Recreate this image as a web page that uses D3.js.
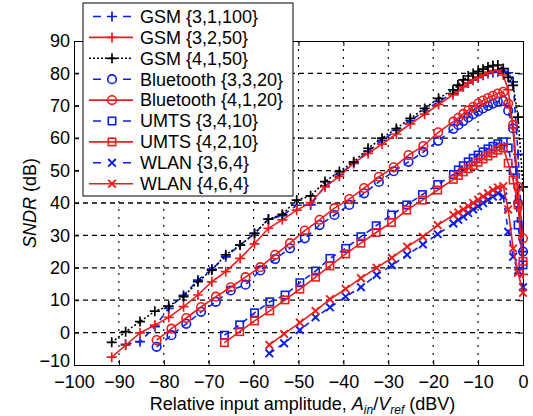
<!DOCTYPE html>
<html>
<head>
<meta charset="utf-8">
<script src="https://cdn.jsdelivr.net/npm/d3@7"></script>
<style>
body { margin: 0; background: #fff; }
text { font-family: "Liberation Sans", Arial, sans-serif; fill: #000; }
</style>
</head>
<body>
<div id="container"></div>
<script>
// amplitude sweeps (dBV) - coarse steps then fine steps near full scale
var xGsm = [-91.6,-88.5,-85.3,-82.0,-78.9,-75.6,-72.4,-69.3,-66.2,-63.0,-59.8,-56.7,-53.6,-50.4,-47.3,-44.1,-40.9,-37.7,-34.5,-31.4,-28.2,-25.1,-21.9,-18.8,
            -15.6,-14.5,-13.3,-12.2,-11.1,-10.0,-8.9,-7.8,-6.7,-5.6,-4.4,-3.3,-2.2,-1.1,0];
var xGsmBlue = [-88.5,-85.3,-82.0,-78.9,-75.6,-72.4,-69.3,-66.2,-63.0,-59.8,-56.7,-53.6,-50.4,-47.3,-44.1,-40.9,-37.7,-34.5,-31.4,-28.2,-25.1,-21.9,-18.8,
            -15.6,-14.5,-13.3,-12.2,-11.1,-10.0,-8.9,-7.8,-6.7,-5.6,-4.4,-3.3,-2.2,-1.1,0];
var xBt = [-81.6,-78.3,-75.0,-71.7,-68.4,-65.1,-61.8,-58.5,-55.2,-51.9,-48.6,-45.3,-42.0,-38.7,-35.4,-32.1,-28.8,-25.5,-22.2,-18.9,
           -15.5,-14.4,-13.3,-12.2,-11.1,-10.0,-8.9,-7.8,-6.7,-5.6,-4.4,-3.3,-2.2,-1.1,0];
var xUmts = [-66.5,-63.1,-59.8,-56.4,-53.0,-49.7,-46.2,-43.0,-39.5,-36.1,-32.7,-29.3,-25.9,-22.4,-19.0,
             -15.5,-14.4,-13.3,-12.2,-11.1,-10.0,-8.9,-7.8,-6.7,-5.6,-4.4,-3.3,-2.2,-1.1,0];
var xWlan = [-56.5,-53.2,-49.7,-46.2,-43.0,-39.5,-36.1,-32.6,-29.2,-25.8,-22.3,-19.0,
             -15.5,-14.4,-13.3,-12.2,-11.1,-10.0,-8.9,-7.8,-6.7,-5.6,-4.4,-3.3,-2.2,-1.1,0];

// SNDR (dB) for each case
var gsm_3_1_100 = [-3.6,-2.8,1.8,7.5,11.5,16.2,19.6,23.4,27.0,30.6,35.0,36.1,39.3,39.4,45.2,48.8,52.2,56.0,59.3,62.4,65.4,68.4,71.4,
                   73.8,74.9,76.0,77.0,77.9,78.7,79.4,80.0,80.3,80.5,80.6,80.2,77.4,55.0,25.0];
var gsm_3_2_50 = [-7.6,-3.9,-0.1,2.3,4.7,8.0,11.6,15.7,18.8,22.9,27.4,32.2,34.8,37.8,40.1,45.0,48.2,52.4,55.3,58.2,61.3,64.4,67.4,70.4,
                  73.4,74.7,75.9,77.0,78.0,78.9,79.7,80.4,80.9,81.1,79.5,74.9,63.3,40.0,18.0];
var gsm_4_1_50 = [-3.0,0.3,3.4,6.6,8.2,11.1,15.7,19.3,24.0,27.0,30.6,35.0,36.5,40.9,42.2,46.6,49.7,52.7,56.9,60.0,63.0,66.1,69.2,72.3,
                  74.9,76.4,78.0,79.2,80.0,80.6,81.3,82.0,82.4,82.6,81.5,78.8,76.3,66.5,45.0];
var bt_3_3_20 = [-4.4,-0.8,2.7,6.4,9.5,13.0,14.8,19.2,22.7,26.0,29.1,33.2,36.3,39.4,43.0,46.5,49.8,52.7,55.7,59.2,
                 62.9,64.1,65.3,66.4,67.4,68.3,69.2,70.0,70.7,71.3,71.5,68.5,63.0,40.0,25.0];
var bt_4_1_20 = [-2.3,1.2,4.5,7.9,11.1,14.0,17.1,20.2,24.0,27.6,31.5,34.8,38.4,41.2,44.6,48.1,51.0,54.8,57.6,61.8,
                 65.1,66.3,67.5,68.6,69.7,70.7,71.6,72.4,73.1,73.8,74.3,70.7,64.1,45.0,29.1];
var umts_3_4_10 = [-0.8,2.4,6.1,9.5,11.6,15.4,19.0,22.9,26.0,29.6,33.0,36.3,39.4,42.6,45.7,
                   48.8,50.2,51.5,52.7,53.8,54.8,55.8,56.7,57.5,58.3,58.9,57.0,50.0,33.2,20.9];
var umts_4_2_10 = [-3.1,0.3,3.6,6.7,10.1,13.4,17.1,20.6,24.3,27.6,30.9,34.0,37.8,40.9,44.0,
                   47.3,48.5,49.6,50.6,51.6,52.6,53.6,54.5,55.4,56.3,57.0,52.3,47.1,39.4,22.0];
var wlan_3_6_4 = [-6.4,-3.3,0.8,4.7,7.8,11.1,14.0,17.8,20.8,24.0,27.2,30.4,
                  33.7,34.8,35.8,36.9,38.0,39.0,40.0,41.0,42.0,43.0,42.0,31.1,23.4,19.1,14.0];
var wlan_4_6_4 = [-3.8,-0.4,3.1,6.7,10.3,13.5,16.8,20.0,23.1,26.5,29.6,33.2,
                  36.3,37.1,38.0,39.0,40.0,41.0,42.0,43.0,44.0,44.8,45.2,38.0,26.0,18.5,12.3];

var labels = ["GSM {3,1,100}","GSM {3,2,50}","GSM {4,1,50}","Bluetooth {3,3,20}","Bluetooth {4,1,20}",
              "UMTS {3,4,10}","UMTS {4,2,10}","WLAN {3,6,4}","WLAN {4,6,4}"];
var xTicks = [-100,-90,-80,-70,-60,-50,-40,-30,-20,-10,0];
var yTicks = [-10,0,10,20,30,40,50,60,70,80,90];

var blue = "#0a1ee6", red = "#ee1c1c", black = "#000";
var series = [
	{x: xGsmBlue, y: gsm_3_1_100, color: blue, dash: "6,5", marker: "plus"},
	{x: xGsm, y: gsm_3_2_50, color: red, dash: null, marker: "plus"},
	{x: xGsm, y: gsm_4_1_50, color: black, dash: "2,2", marker: "plus"},
	{x: xBt, y: bt_3_3_20, color: blue, dash: "6,5", marker: "circle"},
	{x: xBt, y: bt_4_1_20, color: red, dash: null, marker: "circle"},
	{x: xUmts, y: umts_3_4_10, color: blue, dash: "6,5", marker: "square"},
	{x: xUmts, y: umts_4_2_10, color: red, dash: null, marker: "square"},
	{x: xWlan, y: wlan_3_6_4, color: blue, dash: "6,5", marker: "cross"},
	{x: xWlan, y: wlan_4_6_4, color: red, dash: null, marker: "cross"}
];

var margin = {top: 41, right: 10, bottom: 51, left: 74},
	width = 449,
	height = 324;

var svg = d3.select("#container").append("svg")
	.attr("width", 533)
	.attr("height", 416);

var g = svg.append("g")
	.attr("transform", "translate(" + margin.left + "," + margin.top + ")");

var x = d3.scaleLinear().domain([-100, 0]).range([0, width]);
var y = d3.scaleLinear().domain([-10, 90]).range([height, 0]);

// dashed grid
g.selectAll(".hgrid").data(yTicks.slice(1, -1)).enter().append("line")
	.attr("x1", 0).attr("x2", width)
	.attr("y1", function(d) { return y(d); }).attr("y2", function(d) { return y(d); })
	.attr("stroke", "#000").attr("stroke-width", 1.3).attr("stroke-dasharray", "5,4");
g.selectAll(".vgrid").data(xTicks.slice(1, -1)).enter().append("line")
	.attr("y1", 0).attr("y2", height)
	.attr("x1", function(d) { return x(d); }).attr("x2", function(d) { return x(d); })
	.attr("stroke", "#000").attr("stroke-width", 1.1).attr("stroke-dasharray", "2,6");

// axes, ticks pointing inward like matlab
var xAxis = d3.axisBottom(x).tickValues(xTicks).tickSize(-5).tickPadding(10);
var yAxis = d3.axisLeft(y).tickValues(yTicks).tickSize(-5).tickPadding(4);
g.append("g").attr("class", "x axis").attr("transform", "translate(0," + height + ")").call(xAxis);
g.append("g").attr("class", "y axis").call(yAxis);
g.append("g").call(d3.axisTop(x).tickValues(xTicks).tickSize(-5).tickFormat(""));
g.append("g").attr("transform", "translate(" + width + ",0)").call(d3.axisRight(y).tickValues(yTicks).tickSize(-5).tickFormat(""));
g.selectAll(".domain").attr("stroke", "#000").attr("stroke-width", 1);
g.selectAll(".tick line").attr("stroke", "#000");
g.selectAll(".tick text").style("font-size", "18px").attr("fill", "#000");
// lift the bottom y label a little so it clears the x labels
g.selectAll(".y.axis .tick text").filter(function(d) { return d == -10; }).attr("dy", "0.1em");

function drawMarker(sel, type, color) {
	if (type == "circle") {
		sel.append("circle").attr("r", 4.3).attr("fill", "none").attr("stroke", color).attr("stroke-width", 1.6);
	} else if (type == "square") {
		sel.append("rect").attr("x", -3.7).attr("y", -3.7).attr("width", 7.4).attr("height", 7.4)
			.attr("fill", "none").attr("stroke", color).attr("stroke-width", 1.6);
	} else if (type == "plus") {
		sel.append("path").attr("d", "M-5,0H5M0,-5V5").attr("stroke", color).attr("stroke-width", 1.7);
	} else {
		sel.append("path").attr("d", "M-3.8,-3.8L3.8,3.8M-3.8,3.8L3.8,-3.8").attr("stroke", color).attr("stroke-width", 1.9);
	}
}

var line = d3.line()
	.x(function(d) { return x(d[0]); })
	.y(function(d) { return y(d[1]); });

series.forEach(function(s) {
	var pts = s.x.map(function(v, i) { return [v, s.y[i]]; });
	g.append("path").datum(pts)
		.attr("d", line)
		.attr("fill", "none")
		.attr("stroke", s.color)
		.attr("stroke-width", 1.6)
		.attr("stroke-dasharray", s.dash);
	g.selectAll(null).data(pts).enter().append("g")
		.attr("transform", function(d) { return "translate(" + x(d[0]) + "," + y(d[1]) + ")"; })
		.each(function() { drawMarker(d3.select(this), s.marker, s.color); });
});

// legend box (sits over the grid)
var legend = svg.append("g").attr("transform", "translate(83,3)");
legend.append("rect").attr("width", 210).attr("height", 193)
	.attr("fill", "#fff").attr("stroke", "#000").attr("stroke-width", 1);
series.forEach(function(s, i) {
	var row = legend.append("g").attr("transform", "translate(0," + (13.5 + i * 20.9) + ")");
	row.append("line").attr("x1", 6).attr("x2", 50).attr("y1", 0).attr("y2", 0)
		.attr("stroke", s.color).attr("stroke-width", 1.6)
		.attr("stroke-dasharray", s.dash ? (s.color == black ? "2,2" : "8,22") : null)
		.attr("stroke-dashoffset", s.dash && s.color != black ? -4 : 0);
	drawMarker(row.append("g").attr("transform", "translate(29,0)"), s.marker, s.color);
	row.append("text").attr("x", 57).attr("y", 6.3).style("font-size", "18px").text(labels[i]);
});

// axis labels
svg.append("text")
	.attr("transform", "translate(36," + (margin.top + height / 2) + ") rotate(-90)")
	.style("text-anchor", "middle").style("font-size", "18px")
	.html('<tspan font-style="italic">SNDR</tspan> (dB)');

svg.append("text")
	.attr("x", margin.left + width / 2 + 4).attr("y", 410)
	.style("text-anchor", "middle").style("font-size", "18px")
	.html('Relative input amplitude, <tspan font-style="italic">A</tspan><tspan font-style="italic" font-size="12px" dy="4">in</tspan><tspan dy="-4">/</tspan><tspan font-style="italic">V</tspan><tspan font-style="italic" font-size="12px" dy="4">ref</tspan><tspan dy="-4"> (dBV)</tspan>');
</script>
</body>
</html>
